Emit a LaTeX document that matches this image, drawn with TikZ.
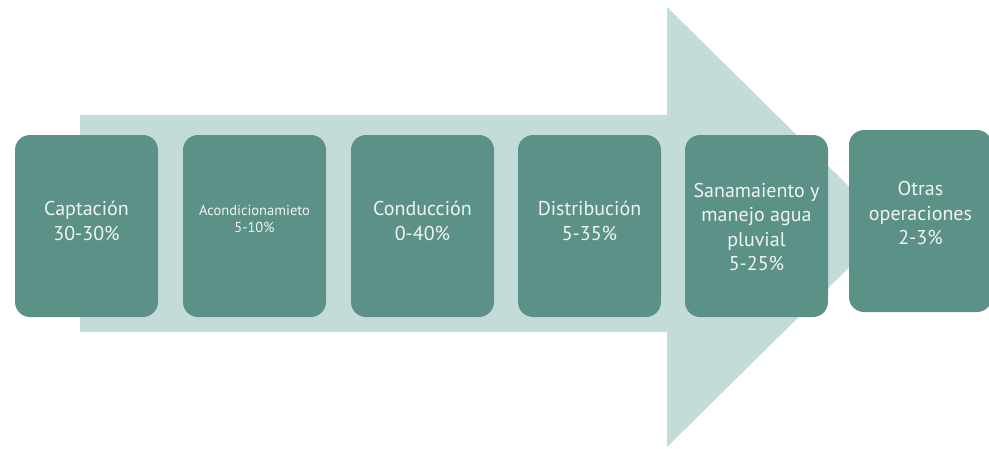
\documentclass[tikz,border=0pt]{standalone}
\usepackage{fontspec}
\setmainfont{PT Sans}
\definecolor{boxfill}{HTML}{5B9186}
\definecolor{arrowfill}{HTML}{C4DCD9}
\definecolor{txt}{HTML}{EEF4F2}
\begin{document}
\begin{tikzpicture}[x=1pt,y=-1pt,
  stagebox/.style={fill=boxfill,draw=none,rounded corners=15pt,inner sep=0pt,
    minimum width=143pt,minimum height=182pt},
  stagetext/.style={text=txt,align=center,font=\fontsize{20}{24.5}\selectfont,inner sep=0pt},
  smalltext/.style={text=txt,align=center,font=\fontsize{14.5}{16.5}\selectfont,inner sep=0pt}]
\useasboundingbox (0,0) rectangle (989,448);
\fill[arrowfill] (80,115) -- (667,115) -- (667,7) -- (890,227) -- (667,447) -- (667,332) -- (80,332) -- cycle;
\node[stagebox] (b1) at (86.5,226) {};
\node[stagebox] (b2) at (254.5,226) {};
\node[stagebox] (b3) at (422.5,226) {};
\node[stagebox] (b4) at (589.5,226) {};
\node[stagebox] (b5) at (756.5,226) {};
\node[stagebox] (b6) at (920.5,221) {};
\node[stagetext] (t1) at ([yshift=5pt]b1.center) {Captación\\30-30\%};
\node[smalltext] (t2) at ([yshift=7pt]b2.center) {Acondicionamieto\\5-10\%};
\node[stagetext] (t3) at ([yshift=5pt]b3.center) {Conducción\\0-40\%};
\node[stagetext] (t4) at ([yshift=5pt]b4.center) {Distribución\\5-35\%};
\node[stagetext] (t5) at ([yshift=-1pt]b5.center) {Sanamaiento y\\manejo agua\\pluvial\\5-25\%};
\node[stagetext] (t6) at ([yshift=8pt]b6.center) {Otras\\operaciones\\2-3\%};
\end{tikzpicture}
\end{document}
